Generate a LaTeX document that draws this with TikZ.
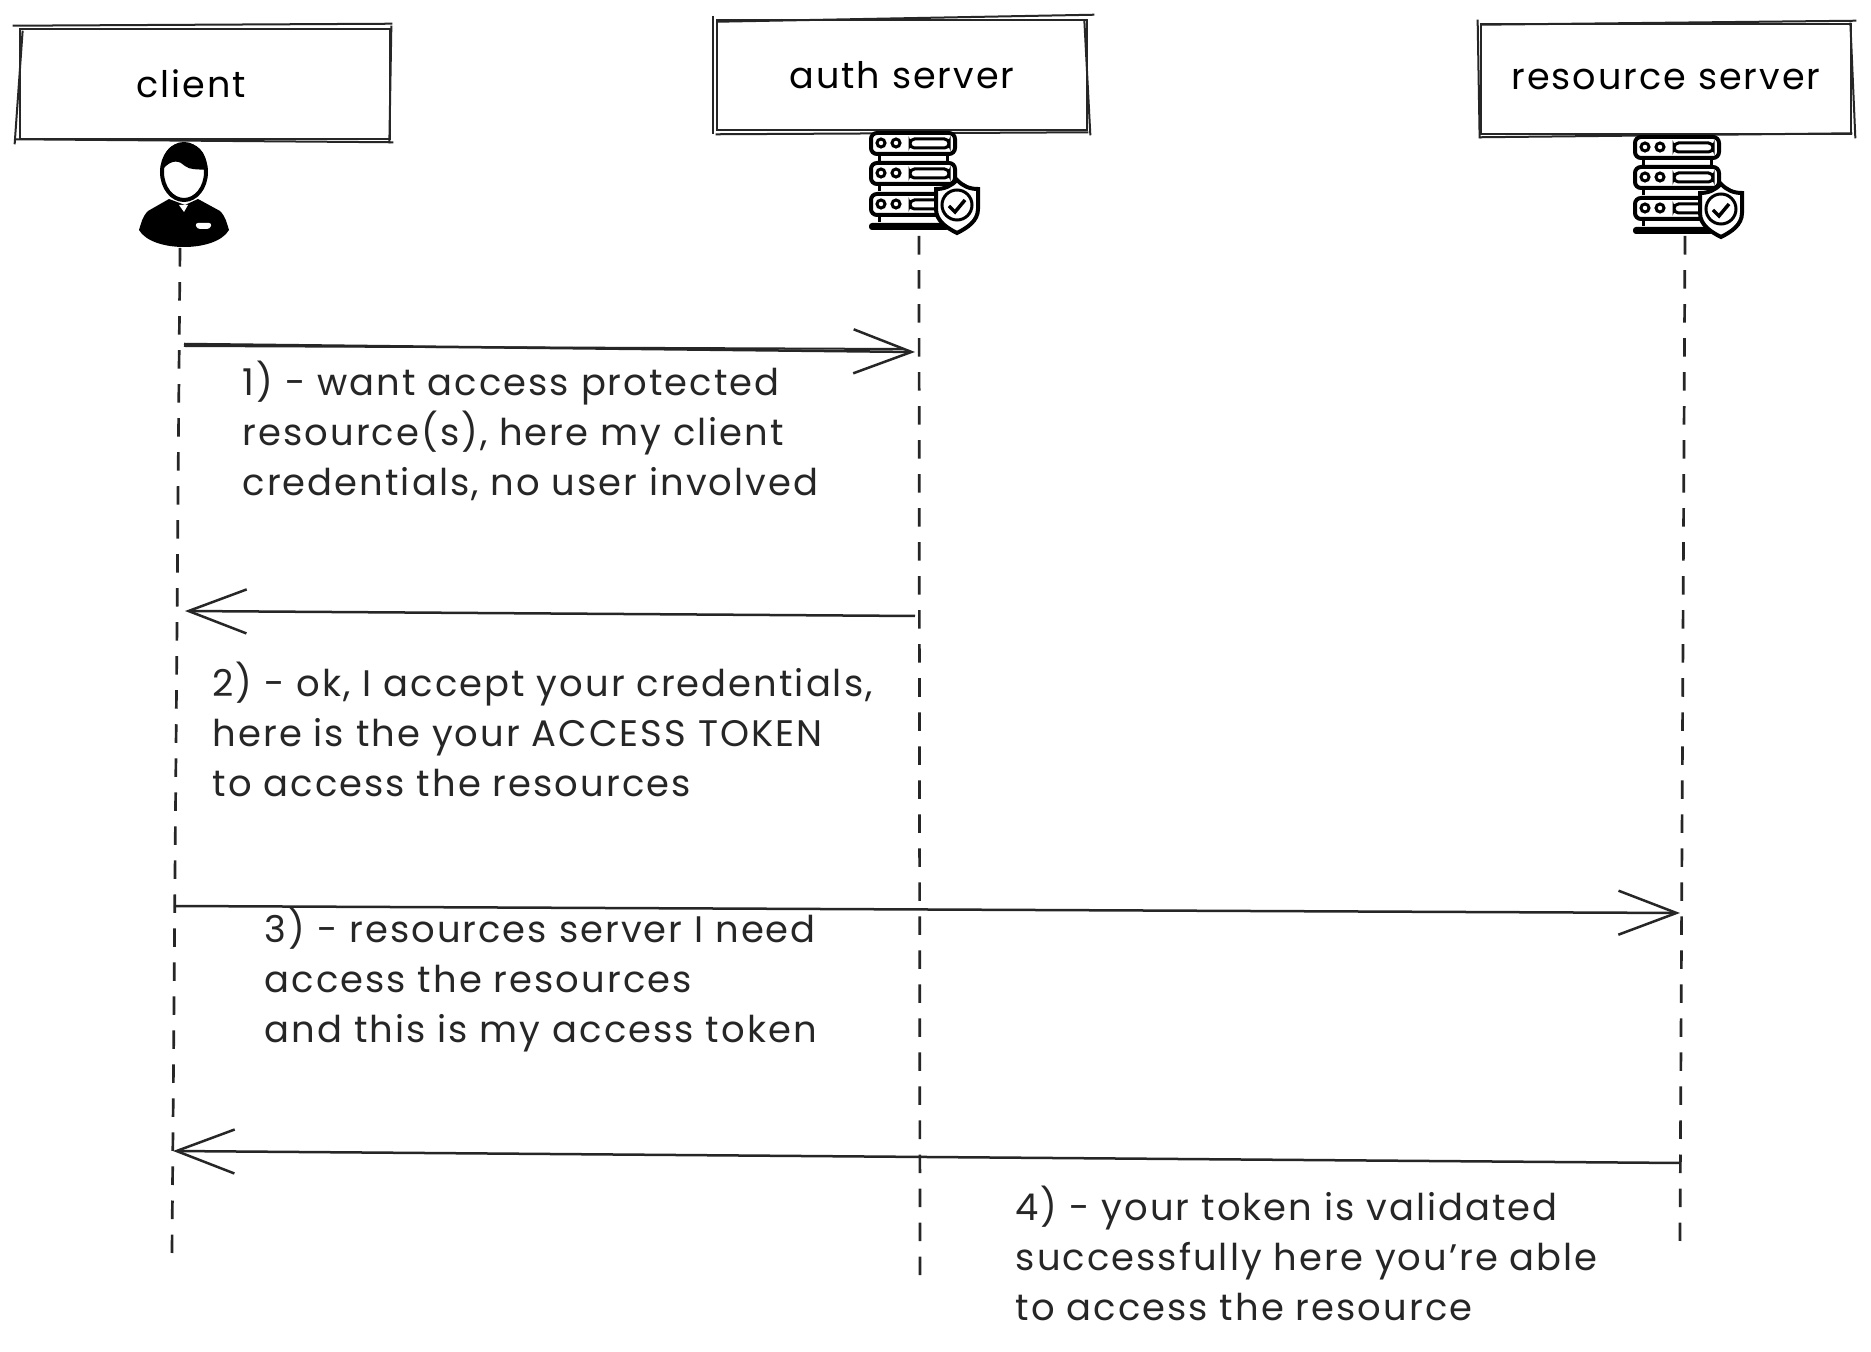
\documentclass[tikz,border=0pt]{standalone}
\usepackage{fontspec}
\setmainfont[LetterSpace=5.5]{Poppins}
\usetikzlibrary{arrows.meta, calc}
\tikzset{
  actor/.style={
    rectangle, draw=black!85, line width=0.025cm,
    minimum width=3.7cm, minimum height=1.1cm,
    align=center, font=\fontsize{10.4pt}{14pt}\selectfont
  },
  sketch/.style={draw=black!85, line width=0.02cm},
  note/.style={
    anchor=west, align=left, inner sep=0pt, text=black!85,
    font=\fontsize{10.5pt}{14.2pt}\selectfont
  },
  lifeline/.style={draw=black!85, line width=0.027cm, dash pattern=on 0.185cm off 0.155cm},
  arrow/.style={
    -{Straight Barb[length=0.58cm,width=0.44cm]},
    line width=0.025cm, draw=black!85
  },
  iconline/.style={draw=black, line width=0.04cm},
  person/.pic={
    \fill[black] (-15,-1) -- (-36,11) .. controls (-42,17) and (-43,24) .. (-45,30)
      .. controls (-38,42) and (-18,47) .. (0,47)
      .. controls (18,47) and (38,42) .. (45,30)
      .. controls (43,24) and (42,17) .. (36,11) -- (14,-1) -- (1,5) -- cycle;
    \fill[white] (-5,5) -- (0,12) -- (4,5) -- cycle;
    \fill[white, rounded corners=0.03cm] (11,23) -- (28,23) -- (26,29) -- (13,29) -- cycle;
    \draw[iconline, fill=white] (0,-28) ellipse (22 and 28);
    \fill[black] (-22,-30) .. controls (-22,-50) and (-12,-57) .. (0,-57)
      .. controls (12,-57) and (23,-50) .. (23,-30)
      .. controls (12,-31) and (6,-30) .. (1,-34)
      .. controls (-4,-39) and (-12,-42) .. (-22,-30) -- cycle;
  },
  server/.pic={
    \foreach \y in {0,30,61} {
      \draw[iconline, rounded corners=0.06cm] (2,\y+2) rectangle (86,\y+23);
      \draw[iconline, line width=0.03cm] (12,\y+12) circle (4);
      \draw[iconline, line width=0.03cm] (27,\y+12) circle (4);
      \draw[iconline, line width=0.03cm, rounded corners=0.045cm] (41,\y+8) rectangle (80,\y+17);
      \draw[iconline, line width=0.03cm] (10,\y+24) -- (10,\y+30) (78,\y+24) -- (78,\y+30);
    }
    \fill[black, rounded corners=0.03cm] (0,92) rectangle (80,99);
    \draw[iconline, fill=white] (88,49) .. controls (82,55) and (76,58) .. (67,58) -- (67,78)
      .. controls (67,90) and (78,97) .. (88,102)
      .. controls (98,97) and (109,90) .. (109,78) -- (109,58)
      .. controls (100,58) and (94,55) .. cycle;
    \draw[iconline, line width=0.03cm] (88,74) circle (15);
    \draw[iconline, line width=0.035cm] (80,75) -- (86,81) -- (96,69);
  }
}

\begin{document}
\begin{tikzpicture}[x=0.01cm, y=-0.01cm]
  \fill[white] (0,0) rectangle (1871,1352);
  \useasboundingbox (0,0) rectangle (1871,1352);

  \node[actor] (client) at (205,84) {client\hspace{0.28cm}};
  \node[actor] (auth) at (902,75) {auth server};
  \node[actor] (resource) at (1666,79) {\raisebox{-0.04cm}{resource server}};

  % second stroke of each box
  \draw[sketch] ($(client.north west)+(-6,-2)$) -- ($(client.north east)+(1,-4)$);
  \draw[sketch] ($(client.north west)+(4,3)$) -- ($(client.south west)+(-4,4)$);
  \draw[sketch] ($(client.north east)+(0,-2)$) -- ($(client.south east)+(-2,3)$);
  \draw[sketch] ($(client.south west)+(-3,-1)$) -- ($(client.south east)+(2,2)$);
  \draw[sketch] ($(auth.north west)+(-3,-3)$) -- ($(auth.south west)+(-3,3)$);
  \draw[sketch] ($(auth.north west)+(2,3)$) -- ($(auth.north east)+(6,-4)$);
  \draw[sketch] ($(auth.north east)+(-4,2)$) -- ($(auth.south east)+(2,4)$);
  \draw[sketch] ($(auth.south west)+(0,3)$) -- ($(auth.south east)+(0,1)$);
  \draw[sketch] ($(resource.north west)+(-2,-3)$) -- ($(resource.south west)+(0,3)$);
  \draw[sketch] ($(resource.north west)+(2,2)$) -- ($(resource.north east)+(4,-2)$);
  \draw[sketch] ($(resource.north east)+(-2,0)$) -- ($(resource.south east)+(3,3)$);
  \draw[sketch] ($(resource.south west)+(0,2)$) -- ($(resource.south east)+(0,-2)$);

  \pic at (184,200) {person};
  \pic at (869,131) {server};
  \pic at (1633,135) {server};

  \coordinate (clientTop) at (180,248);
  \coordinate (clientEnd) at (172,1253);
  \coordinate (authTop) at (919,236);
  \coordinate (authEnd) at (920,1277);
  \coordinate (resourceTop) at (1685,236);
  \coordinate (resourceEnd) at (1680,1241);

  \draw[lifeline] (clientTop) -- (clientEnd);
  \draw[lifeline] (authTop) -- (authEnd);
  \draw[lifeline] (resourceTop) -- (resourceEnd);

  \coordinate (a1) at (184,344);
  \coordinate (b1) at (915,352);
  \coordinate (b2) at (915,616);
  \coordinate (a2) at (185,611);
  \coordinate (a3) at (174,906);
  \coordinate (c3) at (1680,913);
  \coordinate (c4) at (1680,1163);
  \coordinate (a4) at (173,1151);

  \draw[arrow] (a1) -- (b1);
  \draw[sketch] ($(a1)+(0,2)$) -- ($(b1)+(-12,-3)$);
  \draw[arrow] (b2) -- (a2);
  \draw[arrow] (a3) -- (c3);
  \draw[arrow] (c4) -- (a4);

  \node[note] (want) at (242,431) {1) - want access protected\\resource(s), here my client\\credentials, no user involved};
  \node[note] (token) at (212,729) {2) - ok, I accept your credentials,\\here is the your ACCESS TOKEN\\to access the resources};
  \node[note] (need) at (264,980) {3) - resources server I need\\access the resources\\and this is my access token};
  \node[note] (valid) at (1015,1253) {4) - your token is validated\\successfully here you're able\\to access the resource};
\end{tikzpicture}
\end{document}
